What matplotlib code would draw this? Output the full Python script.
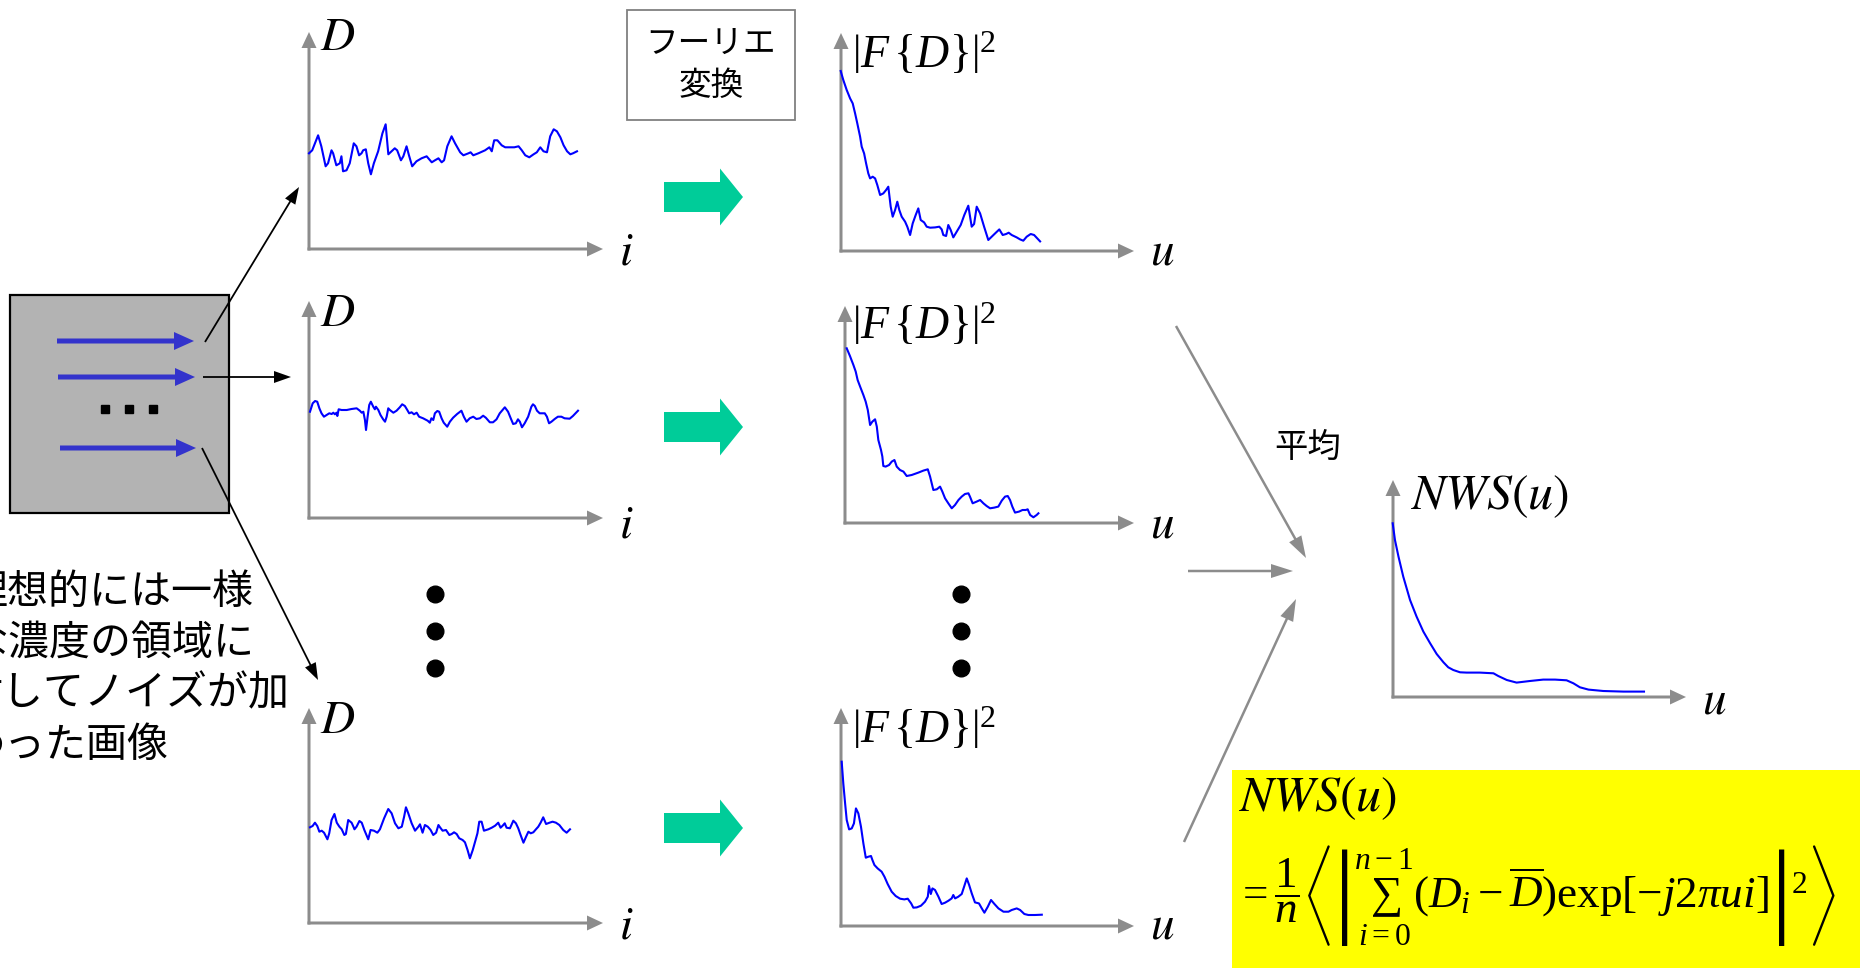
import matplotlib
matplotlib.use("Agg")
import matplotlib.pyplot as plt
from matplotlib.patches import Rectangle, FancyArrow

plt.rcParams['font.family'] = ['Noto Sans CJK JP', 'DejaVu Sans']
plt.rcParams['mathtext.fontset'] = 'stix'
# Times-like glyphs with thin TeX delimiters for the formulas
plt.rcParams['mathtext.rm'] = 'Liberation Serif'
plt.rcParams['mathtext.it'] = 'Liberation Serif:italic'
plt.rcParams['mathtext.bf'] = 'Liberation Serif:bold'

# ---- data (values = height above the axis) ----
# profile 1 (D vs i)
d1_i = [0, 1.2, 3.4, 4.6, 6.2, 7.1, 8.4, 9, 10.2, 11.5, 12.1, 12.7, 14, 15.2, 16.7, 17.7, 18.7, 19.6,
        20.2, 21.2, 22.1, 23.1, 24.2, 25.8, 27.4, 28.6, 29.6, 30.8, 32, 32.9, 34.3, 35.2, 36.4, 37.3,
        38.5, 40.1, 42, 43.9, 45.8, 47, 48.3, 49.5, 50.4, 51.6, 53.2, 54.5, 56.4, 57.6, 59.5, 60.3,
        61.3, 63.2, 65.7, 67.3, 68.2, 69.1, 70.3, 71.9, 73.2, 75, 76.6, 78.2, 79.4, 80.7, 82.2, 83.8,
        85, 86.3, 87.5, 88.8, 90, 91.3, 92.5, 93.8, 95, 96.3, 97.5, 98.5, 100]
d1_v = [96, 99, 114, 103, 83, 86, 99, 96, 84, 86, 93, 78, 79, 86, 106, 103, 94, 96,
        99, 100, 86, 75, 86, 98, 116, 125, 95, 98, 101, 99, 89, 93, 103, 94,
        83, 88, 91, 93, 87, 89, 91, 87, 89, 103, 113, 106, 97, 94, 96, 97,
        94, 96, 99, 102, 98, 109, 109, 104, 102, 102, 102, 103, 99, 94, 92, 95,
        97, 102, 98, 97, 113, 120, 118, 112, 104, 98, 95, 96, 98]

# profile 2
d2_i = [0, 1.0, 1.9, 2.7, 3.5, 4.3, 5.2, 6.2, 7.2, 8.1, 8.7, 9.3, 9.9, 10.2, 10.7, 11.8, 13.7, 15.5,
        17.4, 18.6, 19.3, 19.9, 20.5, 20.9, 21.5, 22.1, 22.7, 23.6, 24.2, 24.6, 25.5, 26.3, 27.3,
        28.0, 28.6, 29.2, 29.8, 31.1, 32.3, 33.5, 34.4, 35.4, 36.3, 37.0, 37.9, 38.8, 39.8, 40.7,
        42.2, 43.9, 44.7, 45.3, 46.0, 46.6, 47.5, 48.2, 49.1, 49.9, 51.2, 52.2, 53.4, 54.9, 56.5,
        57.4, 58.4, 59.6, 60.9, 62.1, 63.4, 64.6, 65.6, 67.1, 68.3, 69.6, 70.8, 72.7, 73.9, 74.9,
        75.8, 76.8, 77.6, 78.3, 79.1, 80.1, 81.4, 82.6, 83.2, 83.9, 84.7, 85.7, 87.6, 88.4, 89.2,
        90.1, 91.3, 92.5, 93.8, 95.0, 96.9, 98.1, 100]
d2_v = [106.3, 114.7, 117, 116.3, 109.7, 104.7, 101.3, 103, 104.7, 104, 105.3, 103.7, 105.3, 102,
        108.7, 108, 108, 109, 109.7, 107.3, 105.3, 106.3, 98, 88, 101.3, 113, 116.3, 111.3, 108.7,
        111.3, 108, 103, 98.7, 96.3, 101.3, 109.7, 108, 105.3, 107.3, 110.7, 113.7, 112, 108,
        104.7, 105.7, 103.7, 105.3, 101.3, 99.7, 97.3, 95.3, 99.7, 98, 104.7, 107, 106.3, 99.7,
        95.3, 91.3, 96.3, 100.3, 104, 107.3, 101.3, 96.3, 99.7, 101.3, 99, 99.7, 102.3, 100.3,
        95.7, 95.7, 98.7, 104.7, 110.7, 106.3, 99.7, 94, 94.7, 98.7, 96.3, 90.7, 94.7, 101.3,
        111.3, 113.7, 112, 107.3, 104.7, 104.7, 101.3, 94.7, 96.3, 99, 101.3, 101.3, 99.7, 99.3,
        102, 107.3]

# profile 3
d3_i = [0, 1.0, 1.9, 2.8, 3.6, 4.5, 5.4, 6.7, 7.4, 8.3, 9.4, 10.3, 11.3, 12.2, 13.2, 13.8, 14.7,
        16.0, 16.7, 17.1, 17.9, 19.0, 19.9, 20.9, 22.4, 23.3, 24.6, 25.9, 26.9, 28.5, 30.1, 31.4,
        32.7, 34.0, 35.3, 36.2, 36.9, 37.8, 39.1, 40.4, 41.7, 42.3, 43.3, 44.2, 45.3, 46.4, 47.4,
        48.5, 49.4, 50.0, 51.0, 52.3, 53.6, 54.5, 55.4, 56.4, 57.4, 58.7, 59.6, 60.6, 61.5, 62.6,
        63.5, 64.4, 65.1, 66.0, 66.9, 68.6, 69.9, 71.2, 72.4, 73.3, 74.1, 74.9, 75.6, 76.9, 78.2,
        79.2, 80.1, 81.0, 82.1, 83.1, 84.0, 84.9, 85.9, 86.9, 87.8, 88.7, 89.7, 90.8, 92.1, 93.3,
        94.6, 95.9, 97.4, 98.7, 100]
d3_v = [95.7, 97, 100.3, 97, 91.3, 92.3, 90.3, 83.7, 89.7, 103, 109, 100.3, 96.3, 93.7, 88, 89,
        103, 100.3, 96.3, 93.7, 96.3, 102, 100.3, 93, 83.7, 93, 92.3, 90.3, 93.7, 104.7, 114,
        109.7, 99.7, 94.7, 96.3, 106.3, 115.7, 109.7, 99.7, 92.3, 96.3, 98.7, 90.3, 98, 96.3, 93,
        88, 90.3, 98, 95.7, 92.3, 93, 88, 89, 90.7, 89, 84.7, 83, 80.7, 73, 64.7, 73, 81.3, 89.7,
        101.3, 101.3, 92.3, 93.7, 95.3, 97.3, 100.3, 95.3, 97.3, 99.7, 95.3, 94.7, 102.3, 99.7,
        94.7, 88, 80.3, 86.3, 91.3, 89.7, 90.7, 93.7, 96.3, 100.3, 105.7, 99, 100.3, 101.3,
        100.3, 98, 93, 90.3, 93.7]

# power spectra |F{D}|^2 vs u
f1_u = [0, 1.3, 3, 4.7, 6, 7.2, 8.3, 9.7, 10.5, 11.7, 12.7, 13.8, 14.7, 16, 17.2, 18.3, 19.7, 21.3,
        22.7, 23.8, 25, 26, 27.2, 28.3, 29.3, 30.5, 32.2, 33.3, 34.7, 36, 37.5, 38.8, 40, 41.7, 43,
        44.7, 47.2, 49.3, 50.5, 51.3, 52.7, 53.8, 55, 56.3, 58, 60, 61.8, 63.8, 65.5, 66.7, 68,
        69.7, 71.7, 73.8, 75.5, 77.2, 79.3, 81, 82.7, 84, 85.5, 88, 89.7, 91.3, 93, 95, 96.7,
        98.3, 99.7]
f1_v = [179.7, 170.7, 160.7, 152.3, 147.3, 137.3, 127.3, 114, 104, 97.3, 87.3, 77.3, 72.3, 74,
        72.3, 65.7, 55.7, 57.3, 60.7, 64, 44, 34, 40.7, 49, 40.7, 34, 29, 24, 15.7, 27.3, 35.7,
        42.3, 30.7, 28.3, 24, 23, 23.3, 24, 21.3, 15.7, 14.7, 25.7, 20.7, 13.3, 19, 25.7, 35.7,
        45, 24, 26.7, 44, 37.3, 24, 10.7, 14, 17.3, 21.3, 15.7, 16.7, 18, 15.7, 13.3, 11.3, 10,
        14, 16.7, 15.7, 12.3, 9.3]

f2_u = [0, 1.7, 3.5, 4.7, 5.7, 7, 8.7, 9.9, 11, 12.2, 13.4, 14.8, 15.7, 16.5, 17.9, 18.6, 19.1,
        20.3, 22.1, 23.5, 24.9, 26.1, 27.8, 29.6, 31.3, 33.9, 37.4, 40, 42.3, 43.5, 45.2, 47, 48.7,
        49.9, 51.3, 53, 54.8, 56.5, 58.3, 60, 61.7, 63.5, 64.3, 65.7, 67.8, 69.6, 71.3, 73, 74.8,
        77, 79.1, 80.9, 82.6, 84, 85.2, 86.4, 87.8, 89.9, 91.7, 93.4, 94.4, 95.7, 97.4, 99.1, 100]
f2_v = [175, 167.3, 158.3, 151.7, 143.3, 136.7, 128.3, 121.7, 113.3, 98.3, 101.7, 104, 96.7,
        83.3, 73.3, 66.7, 57.3, 56.7, 58.3, 61.7, 63.3, 56.7, 53.3, 51.7, 47.3, 48.3, 50.7, 52.7,
        54, 46.7, 33.3, 34, 36.7, 31.7, 25, 20, 15, 18.3, 23.3, 26.7, 29.3, 30, 26.7, 20, 21.7,
        23.3, 20, 17.3, 15, 15.7, 16.7, 22.7, 26.7, 27.3, 23.3, 16.7, 10.7, 11.7, 13.3, 13.3, 14,
        8.3, 6, 8.3, 10]

f3_u = [0, 0.8, 1.7, 2.5, 3.7, 5, 6.1, 7.1, 8.3, 9.6, 10.8, 12, 13.3, 14.6, 15.3, 16.3, 17.9,
        19.9, 21.3, 22.9, 24.9, 26.9, 29.1, 31.2, 32.9, 34.6, 35.7, 37.4, 39.5, 41.5, 42.9, 43.5,
        44.4, 45.2, 46.5, 48.2, 49.8, 51.5, 53.2, 54.8, 55.6, 56.5, 58.1, 59.8, 61.1, 62.3, 63.5,
        64.8, 66.4, 68.4, 69.8, 71.1, 72.8, 74.4, 76.1, 78.1, 80.6, 83.1, 84.7, 87.2, 88.9, 91,
        93, 96.3, 99.7]
f3_v = [165, 143.3, 123.3, 106.7, 97.3, 98.3, 103.3, 118.3, 113.3, 100, 83.3, 69, 70, 70.7,
        66.7, 61.7, 58.3, 55, 50, 42.7, 35, 30.7, 28, 27.3, 28, 23.3, 19, 19.3, 21, 25, 30,
        40.7, 32.7, 38.3, 36.7, 30, 22.7, 24, 26, 28.3, 31.7, 28.3, 30, 32.7, 40.7, 48.3, 41.7,
        33.3, 24.3, 23.3, 18.3, 14, 20, 26.7, 22.7, 18.3, 15, 15, 16.7, 18.3, 16.7, 12.7, 11.7,
        11.7, 12]

# averaged NWS(u)
nws_u = [0, 0.9, 2.3, 4.2, 6.9, 9.5, 12.2, 14.9, 17.5, 20.2, 22.1, 24.1, 26.8, 29.4, 34.7, 40.1,
         42, 45.4, 49.3, 54.6, 59.9, 64.6, 69.2, 71.9, 74.5, 77.9, 83.8, 91.8, 100]
nws_v = [174, 157.3, 140.7, 120.7, 97.3, 80.7, 65.7, 54, 43.3, 35, 30, 27.3, 25, 24.7, 24.7, 24,
         21.3, 17.3, 14.7, 16.3, 17.7, 17.7, 17, 14, 10, 7.7, 6.3, 5.7, 5.7]

caption_lines = ["理想的には一様", "な濃度の領域に", "対してノイズが加", "わった画像"]
caption_x = [-33, -33, -38, -36]

W, H = 1860, 968
GRAY = '#8c8c8c'
BLUE = '#0000ff'

fig = plt.figure(figsize=(W / 100, H / 100), dpi=100)
ax = fig.add_axes([0, 0, 1, 1])
ax.set_xlim(0, W)
ax.set_ylim(H, 0)
ax.axis('off')


def arrow(x0, y0, x1, y1, w, hw, hl, color):
    ax.add_patch(FancyArrow(x0, y0, x1 - x0, y1 - y0, width=w, head_width=hw, head_length=hl,
                            length_includes_head=True, color=color, lw=0))


def axes_arrows(x0, base, top, right):
    arrow(x0, base + 1.5, x0, top, 3, 15, 16, GRAY)
    arrow(x0 - 1.5, base, right, base, 3, 15, 16, GRAY)


def inset(x0, base, w, u, v, h=220):
    a = fig.add_axes([x0 / W, (H - base) / H, w / W, h / H])
    a.set_xlim(0, 100)
    a.set_ylim(0, h)
    a.axis('off')
    a.plot(u, v, color=BLUE, lw=1.5, clip_on=False)
    return a


# image box on the left
ax.add_patch(Rectangle((10, 295), 219, 218, facecolor='#b3b3b3', edgecolor='black', lw=1.6))
for y, xa, xb in [(341, 57, 194), (377, 58, 195), (448, 60, 196)]:
    arrow(xa, y, xb, y, 5, 18, 20, '#3333cc')
ax.plot([105, 129, 153], [409, 409, 409], 's', color='black', ms=6)

arrow(205, 342, 299, 187, 1.8, 12, 17, 'black')
arrow(203, 377, 291, 377, 1.8, 12, 17, 'black')
arrow(202, 448, 318, 680, 1.8, 12, 17, 'black')

for k, line in enumerate(caption_lines):
    ax.text(caption_x[k], 592 + 51 * k, line, fontsize=29.5, ha='left', va='center')

# profiles column
for base, top in [(249, 32), (518, 301), (923, 708)]:
    axes_arrows(309, base, top, 603)
for y in [37, 313, 720]:
    ax.text(320, y, r'$D$', fontsize=34, ha='left', va='center')
for y in [251, 524, 925]:
    ax.text(619, y, r'$i$', fontsize=34, ha='left', va='center')

# Fourier box and green arrows
ax.add_patch(Rectangle((627, 10), 168, 110, facecolor='white', edgecolor='#808080', lw=1.3))
ax.text(711, 44, 'フーリエ', fontsize=23.5, ha='center', va='center')
ax.text(711, 86, '変換', fontsize=23.5, ha='center', va='center')
for yc in [197, 427, 828]:
    arrow(664, yc, 743, yc, 30, 57, 23, '#00cc99')

# spectra column
for x0, base, top in [(841, 251, 33), (845, 523, 306), (841, 926, 708)]:
    axes_arrows(x0, base, top, 1134)
for y in [55, 326, 730]:
    ax.text(852, y, r'$\left|F\,\{D\}\right|^2$', fontsize=33, ha='left', va='center',
            math_fontfamily='custom')
for y in [251, 524, 925]:
    ax.text(1150, y, r'$u$', fontsize=34, ha='left', va='center')

# vertical ellipsis dots
for x in [435, 961]:
    ax.plot([x, x, x], [594, 631, 668], 'o', color='black', ms=12)

# averaging arrows
arrow(1176, 326, 1306, 558, 2.5, 14, 22, GRAY)
arrow(1188, 571, 1293, 571, 2.5, 14, 22, GRAY)
arrow(1184, 842, 1296, 599, 2.5, 14, 22, GRAY)
ax.text(1308, 447, '平均', fontsize=24, ha='center', va='center')

# NWS plot
axes_arrows(1393, 697, 480, 1686)
ax.text(1410, 495, r'$NWS(u)$', fontsize=36, ha='left', va='center')
ax.text(1702, 700, r'$u$', fontsize=34, ha='left', va='center')

# formula box
ax.add_patch(Rectangle((1232, 770), W - 1232, H - 770, facecolor='#ffff00', edgecolor='none'))
ax.text(1238, 797, r'$NWS(u)$', fontsize=36, ha='left', va='center')
ax.text(1236, 895, r'$=\dfrac{1}{n}\left\langle\left|\sum_{i=0}^{n-1}(D_i-\overline{D})\exp[-j2\pi ui]\right|^2\right\rangle$',
        fontsize=32.5, ha='left', va='center', math_fontfamily='custom')

# curves
inset(309, 249.3, 268, d1_i, d1_v)
inset(310, 518, 268, d2_i, d2_v)
inset(310, 923, 260, d3_i, d3_v)
inset(840.7, 250.7, 200, f1_u, f1_v)
inset(846.7, 523.3, 191.7, f2_u, f2_v)
inset(841.7, 926.7, 200.7, f3_u, f3_v)
inset(1392.7, 697.3, 251.3, nws_u, nws_v)

fig.savefig('out.png', dpi=100)
